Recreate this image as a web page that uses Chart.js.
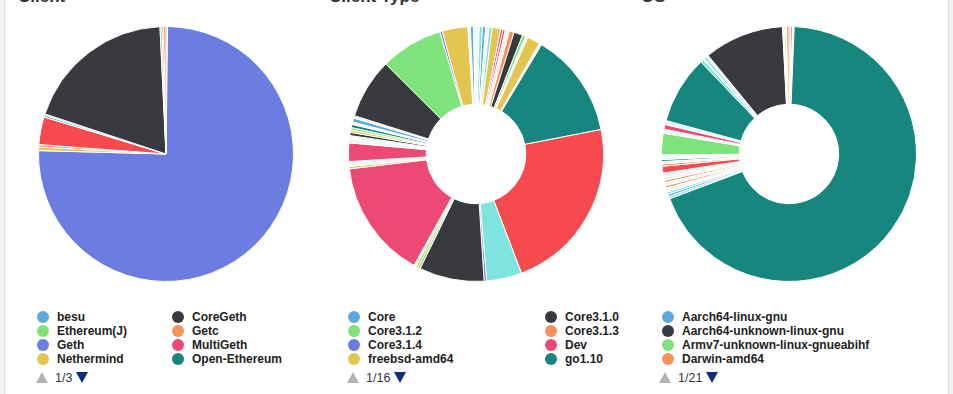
<!DOCTYPE html>
<html>
<head>
<meta charset="utf-8">
<script src="https://cdn.jsdelivr.net/npm/chart.js@4"></script>
<style>
    body { margin: 0; background: #f3f3f3; font-family: Arial, "Liberation Sans", sans-serif; }
    #page { position: relative; width: 943px; height: 394px; left: 4px; background: #fff; border-left: 1px solid #dedede; border-right: 1px solid #dedede; overflow: hidden; }
    .title { position: absolute; top: -13px; font-size: 17px; font-weight: bold; color: #333; }
    .chartBox { position: absolute; width: 256px; height: 256px; }
    .legend { position: absolute; top: 310px; font-size: 12px; font-weight: bold; color: #222; }
    .legend .item { position: absolute; height: 14px; line-height: 14px; white-space: nowrap; }
    .legend .dot { position: absolute; left: 0; top: 1px; width: 12px; height: 12px; border-radius: 50%; }
    .legend .txt { position: absolute; left: 20px; top: 0; }
    .pager { position: absolute; top: 371px; height: 13px; font-size: 12.5px; color: #333; display: flex; align-items: center; }
    .up { width: 0; height: 0; border-left: 6px solid transparent; border-right: 6px solid transparent; border-bottom: 11px solid #b3b3b3; margin-right: 7px; }
    .down { width: 0; height: 0; border-left: 6px solid transparent; border-right: 6px solid transparent; border-top: 11px solid #0d2e7e; margin-left: 4px; }
</style>
</head>
<body>
<div id="page">
    <div class="title" style="left:13px">Client</div>
    <div class="title" style="left:324px">Client Type</div>
    <div class="title" style="left:636px">OS</div>

    <div class="chartBox" style="left:33px; top:26px"><canvas id="chart1" width="256" height="256"></canvas></div>
    <div class="chartBox" style="left:343px; top:26px"><canvas id="chart2" width="256" height="256"></canvas></div>
    <div class="chartBox" style="left:656px; top:26px"><canvas id="chart3" width="256" height="256"></canvas></div>

    <div class="legend" id="legend1" style="left:32px"></div>
    <div class="legend" id="legend2" style="left:343px"></div>
    <div class="legend" id="legend3" style="left:657px"></div>

    <div class="pager" id="pager1" style="left:31px"></div>
    <div class="pager" id="pager2" style="left:342px"></div>
    <div class="pager" id="pager3" style="left:654px"></div>
</div>

<script>
// palette used by the dashboard
const LB = '#5fa8de', DARK = '#393a3f', GREEN = '#7ee37a', ORANGE = '#f5935b', BLUE = '#6b7de0',
      PINK = '#ec4a74', YELLOW = '#e3c64f', TEAL = '#16867f', RED = '#f64a4f', AQUA = '#7fe4dd',
      PALE = '#eaf6f4';

// slices in drawing order (clockwise from the top), values in %
const clientLabels = ['TurboGeth', 'Geth', 'Nethermind', 'Getc', 'Parity-Ethereum', 'besu', 'Open-Ethereum',
    'CoreGeth', 'Ethereum(J)', 'MultiGeth', 'OpenEthereum'];
const clientValues = [0.2, 75.0, 0.45, 0.3, 3.5, 0.25, 0.15, 19.1, 0.25, 0.2, 0.3];
const clientColors = [LB, BLUE, YELLOW, ORANGE, RED, LB, TEAL, DARK, GREEN, PINK, ORANGE];

const typeLabels = ['go1.11', 'go1.11.1', 'Core', 'go1.11.2', 'go1.12', 'go1.12.1', 'Dev', 'go1.12.5', 'go1.12.7', 'Core3.1.3',
    'Core3.1.0', 'Core3.1.2', 'go1.13.1', 'freebsd-amd64', 'go1.13.4',
    'go1.15.6', 'go1.16', 'go1.16.3', 'Core3.1.4', 'go1.15.5', 'go1.14', 'go1.14.1', 'go1.14.2',
    'linux-amd64', 'go1.14.4', 'go1.15', 'go1.16.2', 'go1.15.2', 'go1.15.3', 'go1.15.7',
    'go1.16.4', 'go1.16.5', 'go1.10', 'go1.15.8', 'go1.16.6', 'go1.15.4', 'go1.9',
    'go1.16.1', 'linux-arm64', 'v1.9.25', 'windows-amd64', 'go1.9.2', 'v1.10.1', 'go1.9.4'];
const typeValues = [0.4, 0.4, 0.4, 0.4, 0.4, 1.05, 0.3, 0.3, 0.5, 0.6, 1.1, 0.4, 0.3, 1.6, 0.3,
    13.1, 21.9, 4.4, 0.3, 8.1, 0.3, 0.3, 0.25, 14.8, 0.3, 0.6, 2.3, 0.5, 0.4,
    0.4, 0.3, 0.3, 0.4, 0.3, 0.5, 0.3, 7.5, 7.8, 0.3, 3.2, 0.3, 0.4, 0.3];
const typeColors = [PALE, AQUA, LB, PALE, AQUA, YELLOW, PINK, RED, PALE, ORANGE, DARK, GREEN, PALE, YELLOW, PALE,
    TEAL, RED, AQUA, BLUE, DARK, GREEN, YELLOW, PALE, PINK, YELLOW, PALE, PINK, PALE, PALE,
    DARK, YELLOW, GREEN, TEAL, PALE, LB, PALE, DARK, GREEN, BLUE, YELLOW, PALE, LB, PALE];

const osLabels = ['Dragonfly-amd64', 'Freebsd-386', 'Freebsd-amd64', 'Linux-amd64',
    'Linux-386', 'Aarch64-linux-gnu', 'Linux-arm', 'Linux-arm64', 'Linux-armv6', 'Linux-armv7', 'Linux-mips',
    'Linux-mips64', 'Linux-ppc64', 'Linux-riscv64', 'Linux-s390x', 'Linux-x86', 'Linux-x86_64', 'Netbsd-amd64',
    'Openbsd-amd64', 'Solaris-amd64', 'Armv7-unknown-linux-gnueabihf', 'Windows-386', 'Windows-arm',
    'Windows-x64', 'Windows-x86', 'X86_64-apple-darwin', 'X86_64-linux-gnu', 'X86_64-pc-windows-msvc',
    'X86_64-unknown-linux-gnu', 'Aarch64-unknown-linux-gnu', 'Zos-s390x', 'Unknown-arm64', 'Unknown', 'Darwin-amd64'];
const osValues = [0.25, 0.2, 0.2, 68.4,
    0.3, 0.3, 0.3, 0.2, 0.3, 0.3, 0.4, 0.3, 0.4, 0.5, 0.85, 0.3, 0.3, 0.25, 0.3, 0.3, 2.7,
    0.5, 0.6, 0.5, 8.6, 0.4, 0.2, 0.3, 0.3, 10.1, 0.2, 0.2, 0.1, 0.3];
const osColors = [ORANGE, PINK, PALE, TEAL,
    AQUA, LB, AQUA, PALE, PALE, ORANGE, PALE, ORANGE, PALE, PALE, RED, ORANGE, PALE, TEAL, PALE, PALE, GREEN,
    PALE, PINK, PALE, TEAL, AQUA, PALE, AQUA, PALE, DARK, PALE, GREEN, PALE, ORANGE];

// legend page totals shown under each chart
const legendPages = [3, 16, 21];

document.addEventListener('DOMContentLoaded', function () {
    pieChart('chart1', clientLabels, clientValues, clientColors, 0);
    pieChart('chart2', typeLabels, typeValues, typeColors, '39%');
    pieChart('chart3', osLabels, osValues, osColors, '39%');

    drawLegend('legend1', clientLabels, clientColors, 8, 135);
    drawLegend('legend2', typeLabels, typeColors, 8, 197);
    drawLegend('legend3', osLabels, osColors, 4, 0);

    drawPager('pager1', legendPages[0]);
    drawPager('pager2', legendPages[1]);
    drawPager('pager3', legendPages[2]);
});

function pieChart(canvas, labels, data, colors, cutout) {
    const ctx = document.getElementById(canvas);
    const myChart = new Chart(ctx, {
        type: 'doughnut',
        data: {
            labels: labels,
            datasets: [{
                data: data,
                backgroundColor: colors,
                borderColor: '#ffffff',
                borderWidth: 1,
                hoverOffset: 0
            }]
        },
        options: {
            responsive: false,
            animation: false,
            cutout: cutout,
            layout: { padding: 0 },
            plugins: {
                legend: { display: false },
                tooltip: { enabled: false }
            }
        }
    });
}

// legend: labels sorted alphabetically, first page only
function drawLegend(id, labels, colors, perPage, colWidth) {
    const items = labels.map(function (label, i) {
        return { label: label, color: colors[i] };
    });
    items.sort(function (a, b) {
        return a.label.toLowerCase() < b.label.toLowerCase() ? -1 : 1;
    });

    const columns = colWidth ? 2 : 1;
    let content = '';
    items.slice(0, perPage).map(function (item, i) {
        let col = columns == 2 ? i % 2 : 0;
        let row = columns == 2 ? Math.floor(i / 2) : i;
        content += `
            <div class="item" style="left:${col * colWidth}px; top:${row * 14}px">
                <span class="dot" style="background:${item.color}"></span>
                <span class="txt">${item.label}</span>
            </div>`;
    });
    document.getElementById(id).innerHTML = content;
}

function drawPager(id, pages) {
    document.getElementById(id).innerHTML =
        `<span class="up"></span><span>1/${pages}</span><span class="down"></span>`;
}
</script>
</body>
</html>
